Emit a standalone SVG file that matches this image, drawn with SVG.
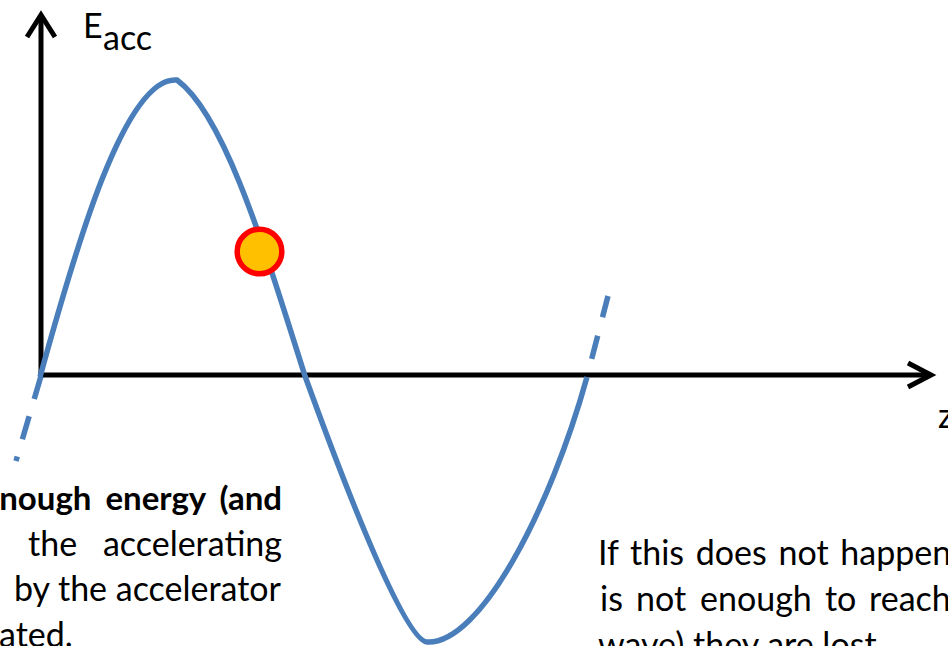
<svg xmlns="http://www.w3.org/2000/svg" width="948" height="646" viewBox="0 0 948 646">
  <style>
    .axis { fill: none; stroke: #000; stroke-width: 5; }
    .wave { fill: none; stroke: #4A7EBB; stroke-width: 5.5; stroke-linecap: butt; }
    .txt { font-family: Lato, "Liberation Sans", sans-serif; font-size: 34px; fill: #000; }
    .bold { font-weight: bold; font-size: 33px; word-spacing: 6px; }
  </style>
  <rect width="948" height="646" fill="#fff"/>
  <g id="axes">
    <line class="axis" x1="41" y1="378" x2="41" y2="16"/>
    <polyline class="axis" points="27,37 41,15 55,37"/>
    <line class="axis" x1="38" y1="375" x2="930" y2="375"/>
    <polyline class="axis" points="908,363 931,375 908,387"/>
  </g>
  <g id="axis-labels">
    <text class="txt" x="83" y="38" font-size="37">E</text>
    <text class="txt" x="103" y="50" font-size="31">acc</text>
    <text class="txt" x="938" y="428" font-size="38">z</text>
  </g>
  <g id="wave">
    <path class="wave" d="M40,377 C75,250 125,75 177,80 C225,115 265,250 305,376 C350,500 405,640 427,642 C480,645 550,510 587,377"/>
    <line class="wave" x1="41" y1="376" x2="16" y2="461" stroke-dasharray="24 18"/>
    <line class="wave" x1="608" y1="296" x2="587" y2="377" stroke-dasharray="22 19 24 100"/>
  </g>
  <g id="particle">
    <circle cx="259.5" cy="251.5" r="22.3" fill="#FFC000" stroke="#FF0000" stroke-width="5.5"/>
  </g>
  <g id="text-left" class="txt">
    <text class="bold" x="282" y="510" text-anchor="end">nough energy (and</text>
    <text x="28" y="556">the</text>
    <text x="282" y="556" text-anchor="end">accelerating</text>
    <text x="281" y="601" text-anchor="end">by the accelerator</text>
    <text x="-1" y="647">ated.</text>
  </g>
  <g id="text-right" class="txt">
    <text x="598" y="565" word-spacing="3">If this does not happen</text>
    <text x="600" y="611">is</text>
    <text x="636" y="611">not</text>
    <text x="700" y="611">enough</text>
    <text x="825" y="611">to</text>
    <text x="869" y="611">reach</text>
    <text x="598" y="657">wave) they are lost.</text>
  </g>
</svg>
